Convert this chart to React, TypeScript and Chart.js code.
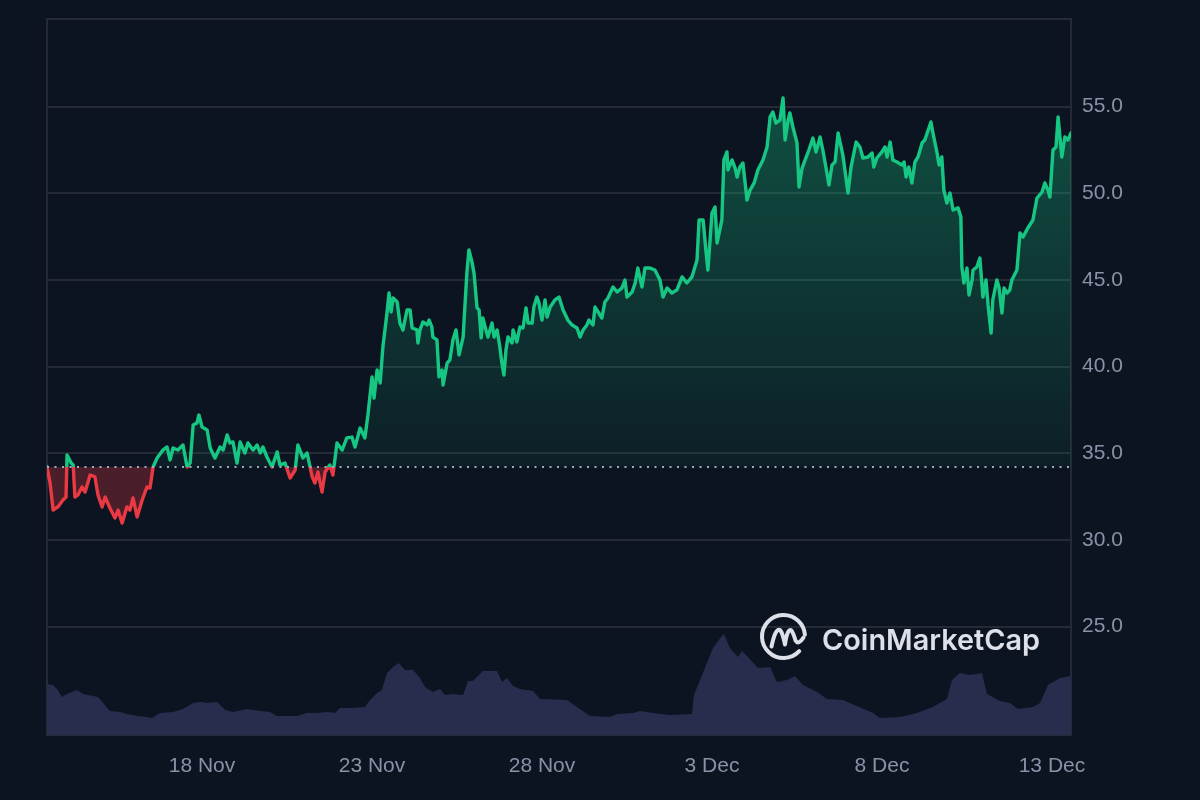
import React, { useEffect, useRef } from "react";
import { Chart, registerables } from "chart.js";

Chart.register(...registerables);

// ---------- data ----------
// x positions are days since 13 Nov 00:00 (18 Nov = 5)
const tickDays = [5, 10, 15, 20, 25, 30];
const tickLabels = ["18 Nov", "23 Nov", "28 Nov", "3 Dec", "8 Dec", "13 Dec"];
const priceTicks = [25, 30, 35, 40, 45, 50, 55];

const priceDays = [
  0.44, 0.53, 0.62, 0.76, 0.91, 1.0, 1.03, 1.15, 1.21, 1.26,
  1.35, 1.47, 1.56, 1.71, 1.85, 1.94, 2.06, 2.15, 2.29, 2.44,
  2.53, 2.65, 2.79, 2.88, 2.97, 3.09, 3.24, 3.38, 3.47, 3.56,
  3.68, 3.85, 3.97, 4.06, 4.15, 4.29, 4.44, 4.56, 4.65, 4.74,
  4.85, 4.91, 5.0, 5.15, 5.24, 5.38, 5.53, 5.62, 5.74, 5.82,
  5.91, 6.03, 6.12, 6.26, 6.35, 6.5, 6.62, 6.71, 6.79, 6.91,
  7.06, 7.21, 7.29, 7.44, 7.59, 7.74, 7.82, 7.97, 8.09, 8.24,
  8.32, 8.41, 8.53, 8.62, 8.76, 8.85, 8.97, 9.12, 9.26, 9.41,
  9.5, 9.65, 9.79, 9.88,
  10.0, 10.06, 10.15, 10.24, 10.32, 10.44, 10.5, 10.56, 10.62, 10.74,
  10.82, 10.91, 11.03, 11.12, 11.18, 11.32, 11.35, 11.41, 11.5, 11.62,
  11.68, 11.76, 11.79, 11.91, 11.97, 12.06, 12.09, 12.21, 12.29, 12.38,
  12.47, 12.56, 12.68, 12.79, 12.85, 12.94, 13.0, 13.09, 13.15, 13.21,
  13.26, 13.35, 13.41, 13.53, 13.59, 13.68, 13.76, 13.82, 13.88, 13.94,
  14.0, 14.12, 14.15, 14.26, 14.35, 14.44, 14.53, 14.59, 14.71, 14.76,
  14.85, 14.91, 15.0, 15.09, 15.15, 15.24, 15.38, 15.5, 15.62, 15.76,
  15.88, 16.03, 16.12, 16.21, 16.32, 16.38, 16.5, 16.56, 16.65, 16.76,
  16.85, 16.94, 17.09, 17.21, 17.35, 17.44, 17.5, 17.65, 17.74, 17.82,
  17.94, 18.03, 18.18,
  18.32, 18.47, 18.56, 18.68, 18.82, 18.97, 19.12, 19.26, 19.41, 19.56,
  19.62, 19.74, 19.82, 19.88, 20.0, 20.09, 20.15, 20.29, 20.35, 20.44,
  20.47, 20.59, 20.68, 20.74, 20.82, 20.91, 21.03, 21.12, 21.24, 21.35,
  21.5, 21.62, 21.71, 21.79, 21.88, 22.0, 22.09, 22.15, 22.24, 22.29,
  22.38, 22.5, 22.56, 22.65, 22.74, 22.85, 22.97, 23.06, 23.18, 23.26,
  23.35, 23.44, 23.53, 23.62, 23.71, 23.85, 23.91, 24.0, 24.09, 24.24,
  24.35, 24.44, 24.59, 24.71, 24.76, 24.85, 25.0, 25.09, 25.15, 25.24,
  25.32, 25.44, 25.59, 25.65, 25.71, 25.79, 25.88, 25.97, 26.06, 26.18,
  26.26, 26.44, 26.5, 26.62, 26.68, 26.76, 26.82,
  26.91, 27.0, 27.09, 27.24, 27.32, 27.35, 27.41, 27.5, 27.56, 27.65,
  27.68, 27.79, 27.88, 27.97, 28.06, 28.12, 28.21, 28.26, 28.38, 28.44,
  28.53, 28.59, 28.68, 28.76, 28.82, 28.97, 29.06, 29.15, 29.29, 29.44,
  29.56, 29.71, 29.79, 29.88, 29.94, 30.03, 30.12, 30.18, 30.29, 30.38,
  30.47, 30.56,
];

const prices = [
  34.23, 33.29, 31.73, 31.91, 32.31, 32.48, 34.91, 34.44, 34.33, 32.48,
  32.6, 33.06, 32.77, 33.75, 33.64, 32.6, 31.91, 32.48, 31.85, 31.27,
  31.73, 30.98, 31.91, 31.73, 32.43, 31.33, 32.31, 33.06, 33.0, 34.21,
  34.73, 35.19, 35.37, 34.62, 35.31, 35.19, 35.48, 34.21, 34.44, 36.64,
  36.75, 37.21, 36.52, 36.35, 35.31, 34.73, 35.37, 35.19, 36.06, 35.6,
  35.66, 34.44, 35.66, 35.02, 35.6, 35.19, 35.48, 35.02, 35.37, 34.79,
  34.21, 35.08, 34.33, 34.44, 33.58, 34.04, 35.48, 34.73, 35.02, 33.64,
  33.29, 33.92, 32.77, 33.92, 34.33, 33.75, 35.6, 35.19, 35.89, 35.94,
  35.37, 36.46, 35.89, 37.21,
  39.41, 38.19, 39.81, 39.06, 41.14, 43.1, 44.25, 43.16, 43.96, 43.73,
  42.52, 42.12, 43.27, 43.27, 42.23, 42.12, 41.37, 42.12, 42.58, 42.41,
  42.69, 42.29, 41.71, 41.54, 39.41, 39.81, 38.94, 40.21, 40.39, 41.54,
  42.12, 40.68, 41.71, 45.41, 46.73, 46.04, 45.41, 43.39, 43.27, 41.66,
  42.81, 42.12, 41.71, 42.52, 41.71, 42.12, 41.14, 40.21, 39.52, 40.96,
  41.71, 41.37, 42.12, 41.43, 42.29, 42.23, 43.39, 42.52, 42.52, 43.44,
  44.02, 43.68, 42.69, 43.85, 42.87, 43.44, 43.85, 44.02, 43.27, 42.69,
  42.41, 42.23, 41.71, 42.12, 42.41, 42.69, 42.41, 43.44, 43.16, 42.81,
  43.73, 43.96, 44.6, 44.31, 44.54, 45.0, 44.02, 44.31, 44.83, 45.69,
  44.6, 45.69, 45.69,
  45.58, 45.0, 44.02, 44.54, 44.25, 44.43, 45.18, 44.83, 45.18, 46.16,
  48.46, 48.46, 46.73, 45.58, 48.87, 49.21, 47.14, 48.46, 51.93, 52.39,
  51.35, 51.93, 51.46, 50.94, 51.52, 51.75, 49.62, 50.19, 50.6, 51.35,
  51.93, 52.68, 54.41, 54.69, 54.06, 54.23, 55.5, 53.08, 54.23, 54.64,
  53.83, 52.91, 50.37, 51.46, 51.93, 52.5, 53.19, 52.39, 53.25, 52.5,
  51.52, 50.48, 51.64, 51.81, 53.48, 52.21, 51.35, 50.02, 51.52, 52.96,
  52.68, 52.04, 52.1, 52.33, 51.52, 52.04, 52.39, 52.68, 52.1, 52.96,
  51.93, 51.81, 51.64, 51.81, 50.94, 51.52, 50.6, 51.81, 52.1, 52.91,
  53.08, 54.12, 53.48, 52.33, 51.64, 52.1, 50.19,
  49.44, 50.02, 49.04, 49.16, 48.64, 45.75, 44.83, 45.69, 44.14, 45.0,
  45.58, 45.75, 46.27, 44.02, 45.0, 43.56, 41.94, 43.85, 45.0, 44.6,
  43.1, 44.54, 44.25, 44.43, 45.0, 45.58, 47.71, 47.48, 48.0, 48.46,
  49.73, 50.08, 50.6, 50.19, 49.79, 52.5, 52.68, 54.41, 52.1, 53.25,
  53.08, 53.48,
];

const volumeDays = [
  0.44, 0.62, 0.76, 0.88, 1.03, 1.32, 1.5, 1.94, 2.09, 2.29,
  2.59, 2.79, 3.09, 3.38, 3.53, 3.76, 4.15, 4.44, 4.74, 4.94,
  5.15, 5.44, 5.68, 5.91, 6.32, 6.71, 7.0, 7.21, 7.79, 8.09,
  8.38, 8.68, 8.91, 9.06, 9.44, 9.79, 9.94, 10.15, 10.29, 10.44,
  10.62, 10.79, 10.97, 11.21, 11.41, 11.56, 11.79, 12.0, 12.15, 12.38,
  12.68, 12.82, 12.97, 13.26, 13.68, 13.82, 13.97, 14.15, 14.35, 14.74,
  14.94, 15.74, 16.03, 16.41, 17.0, 17.21, 17.68, 17.88, 18.26, 18.76,
  19.41, 19.47, 19.65, 19.85, 20.03, 20.24, 20.35, 20.53, 20.76, 20.88,
  21.06, 21.35, 21.71, 21.91, 22.21, 22.44, 22.68, 23.09, 23.38, 23.85,
  24.26, 24.74, 24.94, 25.53, 26.03, 26.5, 26.91, 27.06, 27.29, 27.59,
  27.79, 27.94, 28.09, 28.47, 28.76, 29.0, 29.44, 29.65, 29.88, 30.24,
  30.56,
];

// 24h volume, millions USD
const volumes = [
  25.5, 25, 22.5, 19, 20.5, 22.5, 20.5, 19, 16, 12,
  11.5, 10.5, 9.5, 9, 8.5, 11, 11.5, 13, 16, 16.5,
  16, 16.5, 12.5, 11.5, 13, 12, 11.5, 9.5, 9.5, 11,
  11, 11.5, 11, 13.5, 13.5, 14, 17.5, 21, 22.5, 31,
  34, 36, 32.5, 32.5, 28.5, 24, 21.5, 23, 20, 20.5,
  20, 27, 27, 32, 32, 26.5, 28.5, 24.5, 23, 22,
  18, 17.5, 14, 9.5, 9, 10.5, 11, 12, 11, 10,
  10.5, 20, 27.5, 36, 43.5, 48.5, 50.5, 43.5, 39, 42,
  39, 33.5, 34, 26.5, 27.5, 29.5, 25, 21.5, 18, 17.5,
  14.5, 11, 8.5, 9, 11, 14, 18, 27.5, 31, 30,
  30.5, 31, 20.5, 17, 16, 13, 14, 16, 25, 28.5,
  29.5,
];

// ---------- styling ----------
const BG = "#0d1421";
const GRID = "#252a36";
const LABEL = "#8a91a7";
const GREEN = "#16c784";
const RED = "#ea3943";
const VOLUME = "#262d4d";
const WATERMARK = "#dde0e8";
const FONT = "'Liberation Sans', Arial, Helvetica, sans-serif";

const X_MIN = 0.44;
const X_MAX = 30.56;
const Y_MIN = 18.75;
const Y_MAX = 60.06;
const VOL_MAX = 358;
const BASE = prices[0];

function baseFraction(chart: any) {
  const a = chart.chartArea;
  const yb = chart.scales.y.getPixelForValue(BASE);
  return Math.min(Math.max((yb - a.top) / (a.bottom - a.top), 0), 1);
}

const decorPlugin = {
  id: "decor",
  beforeDatasetsDraw(chart: any) {
    const { ctx, chartArea: a } = chart;
    ctx.save();
    ctx.strokeStyle = GRID;
    ctx.lineWidth = 2;
    ctx.strokeRect(a.left, a.top, a.right - a.left, a.bottom - a.top);
    ctx.restore();
  },
  afterDatasetsDraw(chart: any) {
    const { ctx, chartArea: a } = chart;
    const yb = Math.round(chart.scales.y.getPixelForValue(BASE));
    ctx.save();
    // baseline (first price)
    ctx.strokeStyle = "#a3a9ba";
    ctx.lineWidth = 2;
    ctx.setLineDash([2, 5.5]);
    ctx.beginPath();
    ctx.moveTo(a.left, yb);
    ctx.lineTo(a.right, yb);
    ctx.stroke();
    ctx.setLineDash([]);

    // watermark
    const cx = a.right - 287.5;
    const cy = a.bottom - 98.5;
    ctx.strokeStyle = WATERMARK;
    ctx.lineWidth = 4;
    ctx.lineCap = "round";
    ctx.lineJoin = "round";
    ctx.beginPath();
    ctx.arc(cx, cy, 21.5, 0.75, Math.PI * 2 - 0.08);
    ctx.stroke();
    ctx.beginPath();
    ctx.moveTo(cx - 12, cy + 10);
    ctx.quadraticCurveTo(cx - 8, cy - 9, cx - 3.5, cy - 6.5);
    ctx.quadraticCurveTo(cx - 1, cy - 4, cx + 1.5, cy + 8);
    ctx.quadraticCurveTo(cx + 4, cy - 9, cx + 8, cy - 6);
    ctx.quadraticCurveTo(cx + 10, cy - 3, cx + 12, cy + 4);
    ctx.quadraticCurveTo(cx + 15, cy + 9, cx + 20, cy + 1);
    ctx.stroke();

    ctx.fillStyle = WATERMARK;
    ctx.font = "600 29px Inter, 'Noto Sans', sans-serif";
    ctx.textBaseline = "alphabetic";
    const text = "CoinMarketCap";
    const w = ctx.measureText(text).width;
    const tx = cx + 38.5;
    const ty = a.bottom - 85;
    ctx.translate(tx, ty);
    ctx.scale(218 / w, 1);
    ctx.fillText(text, 0, 0);
    ctx.restore();
  },
};

export default function App() {
  const canvasRef = useRef<HTMLCanvasElement | null>(null);

  useEffect(() => {
    document.body.style.margin = "0";
    document.body.style.background = BG;
    const canvas = canvasRef.current;
    if (!canvas) return;

    const priceData = priceDays.map((d, i) => ({ x: d, y: prices[i] }));
    const volumeData = volumeDays.map((d, i) => ({ x: d, y: volumes[i] }));

    const chart = new Chart(canvas, {
      type: "line",
      data: {
        datasets: [
          {
            label: "Price",
            data: priceData,
            yAxisID: "y",
            order: 1,
            borderWidth: 3.4,
            pointRadius: 0,
            tension: 0,
            borderJoinStyle: "round",
            borderCapStyle: "round",
            fill: { value: BASE },
            borderColor: (c: any) => {
              const chart = c.chart;
              const a = chart.chartArea;
              if (!a) return GREEN;
              const f = baseFraction(chart);
              const g = chart.ctx.createLinearGradient(0, a.top, 0, a.bottom);
              g.addColorStop(0, GREEN);
              g.addColorStop(f, GREEN);
              g.addColorStop(f, RED);
              g.addColorStop(1, RED);
              return g;
            },
            backgroundColor: (c: any) => {
              const chart = c.chart;
              const a = chart.chartArea;
              if (!a) return "rgba(22,199,132,0.2)";
              const f = baseFraction(chart);
              const g = chart.ctx.createLinearGradient(0, a.top, 0, a.bottom);
              g.addColorStop(0, "rgba(22,199,132,0.40)");
              g.addColorStop(f, "rgba(22,199,132,0.06)");
              g.addColorStop(f, "rgba(234,57,67,0.28)");
              g.addColorStop(1, "rgba(234,57,67,0.28)");
              return g;
            },
          } as any,
          {
            label: "Volume",
            data: volumeData,
            yAxisID: "yv",
            order: 2,
            borderWidth: 0,
            pointRadius: 0,
            tension: 0,
            fill: "origin",
            backgroundColor: VOLUME,
            borderColor: VOLUME,
          } as any,
        ],
      },
      options: {
        animation: false,
        responsive: false,
        maintainAspectRatio: false,
        devicePixelRatio: 1,
        layout: { padding: { left: 47, top: 19, right: 0, bottom: 0 } },
        plugins: {
          legend: { display: false },
          tooltip: { enabled: false },
        },
        scales: {
          x: {
            type: "linear",
            min: X_MIN,
            max: X_MAX,
            grid: { display: false, drawTicks: false },
            border: { display: false },
            afterBuildTicks: (scale: any) => {
              scale.ticks = tickDays.map((v) => ({ value: v }));
            },
            afterFit: (scale: any) => {
              scale.height = 65;
              scale.paddingLeft = 0;
              scale.paddingRight = 0;
            },
            ticks: {
              autoSkip: false,
              maxRotation: 0,
              padding: 19,
              color: LABEL,
              font: { family: FONT, size: 21 },
              callback: (v: any) => {
                const i = tickDays.indexOf(Number(v));
                return i >= 0 ? tickLabels[i] : "";
              },
            },
          },
          y: {
            type: "linear",
            position: "right",
            min: Y_MIN,
            max: Y_MAX,
            grid: { color: GRID, lineWidth: 2, drawTicks: false },
            border: { display: false },
            afterBuildTicks: (scale: any) => {
              scale.ticks = priceTicks.map((v) => ({ value: v }));
            },
            afterFit: (scale: any) => {
              scale.width = 129;
              scale.paddingTop = 0;
              scale.paddingBottom = 0;
            },
            ticks: {
              padding: 11,
              color: LABEL,
              font: { family: FONT, size: 21 },
              callback: (v: any) => Number(v).toFixed(1),
            },
          },
          yv: {
            type: "linear",
            display: false,
            min: 0,
            max: VOL_MAX,
          },
        },
      } as any,
      plugins: [decorPlugin as any],
    });

    return () => chart.destroy();
  }, []);

  return (
    <div
      style={{
        position: "fixed",
        left: 0,
        top: 0,
        width: 1200,
        height: 800,
        background: BG,
      }}
    >
      <canvas ref={canvasRef} width={1200} height={800} style={{ display: "block" }} />
    </div>
  );
}
